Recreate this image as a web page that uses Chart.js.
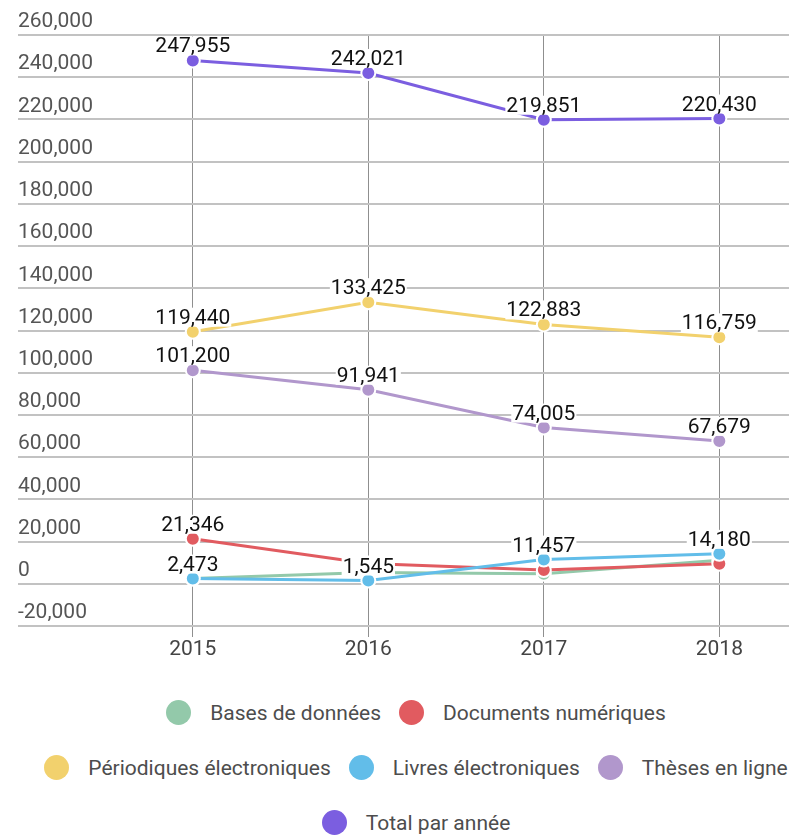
<!DOCTYPE html>
<html>
<head>
<meta charset="utf-8">
<script src="https://cdn.jsdelivr.net/npm/chart.js@4.4.1/dist/chart.umd.min.js"></script>
<style>
  html, body { margin: 0; padding: 0; background: #fff; width: 789px; height: 836px; overflow: hidden; }
  #chartBox { position: absolute; left: 0; top: 0; width: 789px; height: 671px; }
  #legend {
    position: absolute; left: 31px; top: 700px; width: 770px;
    display: flex; flex-wrap: wrap; justify-content: center;
    row-gap: 30px; column-gap: 18px;
    font-family: Roboto, sans-serif; font-size: 21px; color: #4d4d4d;
  }
  .item { display: flex; align-items: center; height: 25px; white-space: nowrap; }
  .dot { width: 25px; height: 25px; border-radius: 50%; margin-right: 19px; flex: none; }
</style>
</head>
<body>
<div id="chartBox"><canvas id="c" width="789" height="671"></canvas></div>
<div id="legend"></div>
<script>
// ---- Data ----
const years = [2015, 2016, 2017, 2018];
const seriesNames = [
  'Bases de données',
  'Documents numériques',
  'Périodiques électroniques',
  'Livres électroniques',
  'Thèses en ligne',
  'Total par année'
];
const basesDeDonnees      = [2500, 5300, 4800, 11200];
const documentsNumeriques = [21346, 9600, 6500, 9500];
const periodiques         = [119440, 133425, 122883, 116759];
const livres              = [2473, 1545, 11457, 14180];
const theses              = [101200, 91941, 74005, 67679];
const totalParAnnee       = [247955, 242021, 219851, 220430];
const yMin = -20000, yMax = 260000, yStep = 20000;

// ---- Styles ----
const colors = ['#93c9aa', '#e15b60', '#f2d16d', '#62bde9', '#b197cc', '#7b5ee0'];
const seriesValues = [basesDeDonnees, documentsNumeriques, periodiques, livres, theses, totalParAnnee];
const labelFlags = [
  [false, false, false, false],
  [true, false, false, false],
  [true, true, true, true],
  [true, true, true, true],
  [true, true, true, true],
  [true, true, true, true]
];
const fontFamily = 'Roboto, sans-serif';

const datasets = seriesValues.map((vals, i) => ({
  label: seriesNames[i],
  data: vals.map((v, k) => ({ x: years[k], y: v })),
  borderColor: colors[i],
  backgroundColor: colors[i],
  borderWidth: 3,
  pointRadius: 7,
  pointHoverRadius: 7,
  pointBackgroundColor: colors[i],
  pointBorderColor: '#ffffff',
  pointBorderWidth: 2,
  tension: 0,
  order: seriesValues.length - 1 - i,
  showLabels: labelFlags[i]
}));

const valueLabels = {
  id: 'valueLabels',
  afterDatasetsDraw(chart) {
    const ctx = chart.ctx;
    ctx.save();
    ctx.font = '21px ' + fontFamily;
    ctx.textAlign = 'center';
    ctx.textBaseline = 'alphabetic';
    chart.data.datasets.forEach((ds, di) => {
      const meta = chart.getDatasetMeta(di);
      meta.data.forEach((pt, k) => {
        if (!ds.showLabels || !ds.showLabels[k]) return;
        const txt = ds.data[k].y.toLocaleString('en-US');
        const w = ctx.measureText(txt).width;
        const base = pt.y - 8;
        ctx.fillStyle = '#ffffff';
        ctx.fillRect(pt.x - w / 2 - 1, base - 16, w + 2, 19);
        ctx.fillStyle = '#111111';
        ctx.fillText(txt, pt.x, base);
      });
    });
    ctx.restore();
  }
};

const chart = new Chart(document.getElementById('c'), {
  type: 'line',
  data: { datasets },
  plugins: [valueLabels],
  options: {
    responsive: false,
    animation: false,
    locale: 'en-US',
    layout: { autoPadding: false, padding: { top: 35, left: 18, right: 0, bottom: 0 } },
    plugins: {
      legend: { display: false },
      tooltip: { enabled: false }
    },
    scales: {
      x: {
        type: 'linear',
        min: 2014.004,
        max: 2018.397,
        afterBuildTicks(scale) { scale.ticks = years.map(v => ({ value: v })); },
        afterFit(scale) { scale.height = 45; },
        ticks: {
          autoSkip: false, maxRotation: 0, padding: 0,
          callback: v => String(v),
          font: { family: fontFamily, size: 21 },
          color: '#444444'
        },
        grid: { color: '#8f8f8f', lineWidth: 1, tickLength: 11, drawTicks: true },
        border: { display: false }
      },
      y: {
        min: yMin, max: yMax,
        ticks: {
          stepSize: yStep, mirror: true, padding: 0, labelOffset: -13,
          font: { family: fontFamily, size: 21 },
          color: '#555555'
        },
        grid: { color: '#c2c2c2', lineWidth: 2, drawTicks: false },
        border: { display: false }
      }
    }
  }
});

// HTML legend built from the chart's datasets
const legendEl = document.getElementById('legend');
chart.data.datasets.forEach(ds => {
  const item = document.createElement('div');
  item.className = 'item';
  const dot = document.createElement('span');
  dot.className = 'dot';
  dot.style.background = ds.backgroundColor;
  const txt = document.createElement('span');
  txt.textContent = ds.label;
  item.appendChild(dot);
  item.appendChild(txt);
  legendEl.appendChild(item);
});
</script>
</body>
</html>
